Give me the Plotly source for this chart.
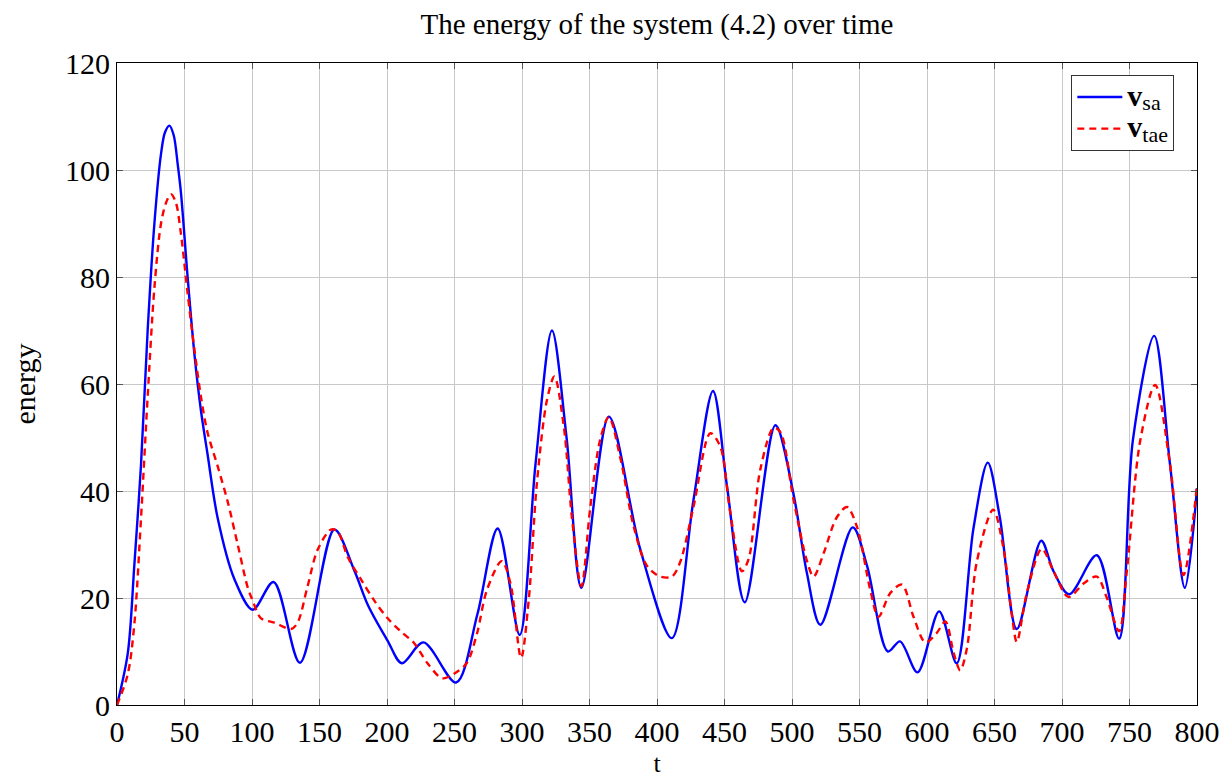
import plotly.graph_objects as go

# v_sa (solid blue) key points
t_sa = [0, 8, 12.8, 17.8, 22.7, 27.7, 32.6, 35.5, 38.8, 42, 45, 47.4, 52.3, 57.3, 62.2, 67, 74.6, 87, 100.5,
        116, 135.5, 161, 176, 186, 200.5, 211, 227, 251.2, 267, 282, 298.3, 310, 322.2, 333, 344,
        364.3, 387.7, 411, 427, 441.5, 451.9, 465, 487.7, 501, 511, 521, 545, 555.6, 571, 580, 593,
        609, 622, 634.4, 645, 654, 666.5, 684.6, 693.7, 705.3, 725.8, 742.3, 752.5, 768.3, 780, 791, 800]
e_sa = [0, 9.7, 26, 45, 70, 90, 103, 107, 108.3, 106.5, 101, 95.7, 80, 65.7, 55, 47, 34.9, 23.5, 17.8,
        23, 7.9, 32.8, 25, 18.6, 12, 7.8, 11.7, 4.2, 17, 33, 13.1, 45, 70, 50, 21.9,
        53.9, 29, 12.5, 38.3, 58.7, 40.8, 19.2, 52.3, 39.6, 24.7, 15, 33.2, 26, 10, 11.9, 6.1,
        17.5, 7.8, 33, 45.3, 35, 14.2, 30.7, 25, 20.7, 28, 12.4, 49.5, 69, 45, 21.9, 40.5]

# v_tae (dashed red) key points
t_tae = [0, 7.9, 12.8, 17.8, 22.7, 27.7, 32.6, 36.5, 40, 43.5, 47.4, 52.3, 57.3, 62.2, 67, 74.6, 82, 89.4, 96.8,
         100.5, 106.7, 116.5, 129, 133.8, 141, 148.6, 158.5, 163.5, 171, 180.7, 190.6, 200.5, 210,
         220, 230, 241, 250.6, 259, 266.7, 274, 285, 291.4, 299.3, 305, 311, 318.5, 324, 331, 337,
         344, 350.6, 358, 364.3, 373, 382.7, 392.6, 402.5, 411, 417, 427, 439.5, 446.9, 454, 462.9,
         467.9, 476.5, 486.4, 491.4, 501.2, 511, 516, 523.5, 533, 540.7, 548, 558, 564, 573, 581.5,
         590, 598.8, 607, 613.6, 619.8, 624.6, 629.5, 636.9, 649, 656.7, 662.8, 666.5, 674, 685,
         693.7, 704.8, 716, 725.8, 733, 742.3, 748, 758, 769, 780, 790, 800]
e_tae = [0, 5.7, 15, 35, 57.6, 78, 90, 94, 95.5, 94, 88, 77, 66.5, 57.6, 51, 44.6, 38, 30, 22,
         19.5, 16.2, 15.4, 14.2, 15.4, 22, 29, 32.8, 32.4, 27.6, 23.5, 19.5, 16.2, 13.8,
         11.6, 7.8, 5, 6, 7.8, 13.4, 21.5, 26.9, 22.8, 8.8, 19.7, 41.4, 57, 61.4, 52, 35,
         22.2, 37, 49.7, 53.8, 46, 33.4, 26, 24, 24, 26.6, 37, 50.8, 48.3, 36.4, 25,
         27.3, 44, 51.8, 51, 38.3, 27, 24, 28.4, 35, 37, 33.4, 21.5, 16.5, 21, 22.5,
         16.5, 11.7, 13.4, 15.6, 9.7, 6.5, 10.5, 26.8, 36.5, 29.2, 17, 11.8, 21, 29.2,
         25, 20.2, 22.7, 24, 20.2, 13.8, 25, 49.5, 59.8, 45, 24.3, 41]

x_ticks = list(range(0, 801, 50))
y_ticks = list(range(0, 121, 20))

FONT = "Liberation Serif"

fig = go.Figure()
fig.add_trace(go.Scatter(
    x=t_sa, y=e_sa, mode="lines",
    name="<span style='font-size:30px'><b>v</b></span><sub><span style='font-size:22px'>sa</span></sub>",
    line=dict(color="#0000ff", width=2.4, shape="spline", smoothing=0.9)))
fig.add_trace(go.Scatter(
    x=t_tae, y=e_tae, mode="lines",
    name="<span style='font-size:30px'><b>v</b></span><sub><span style='font-size:22px'>tae</span></sub>",
    line=dict(color="#ff0000", width=2.4, dash="7px,5px", shape="spline", smoothing=0.9)))

axis_common = dict(
    showline=True, linecolor="black", linewidth=1.2, mirror="ticks",
    ticks="inside", ticklen=6, tickcolor="#555555",
    showgrid=True, gridcolor="#c8c8c8", gridwidth=1, automargin=False,
    zeroline=False, tickfont=dict(family=FONT, size=30, color="black"),
)

fig.update_layout(
    width=1224, height=770,
    paper_bgcolor="white", plot_bgcolor="white",
    margin=dict(l=109, r=35, t=55, b=73),
    font=dict(family=FONT, color="black"),
    title=dict(text="The energy of the system (4.2) over time", x=0.5, xanchor="center",
               xref="paper", y=0.98, yanchor="middle", font=dict(family=FONT, size=29)),
    xaxis=dict(range=[0, 800], tickvals=x_ticks, ticktext=[str(v) for v in x_ticks],
               title=dict(text="t", font=dict(family=FONT, size=26), standoff=9),
               **axis_common),
    yaxis=dict(range=[0, 120], tickvals=y_ticks, ticktext=[str(v) for v in y_ticks],
               title=dict(text="energy", font=dict(family=FONT, size=30), standoff=24),
               **axis_common),
    legend=dict(x=0.979, y=0.981, xanchor="right", yanchor="top",
                bgcolor="white", bordercolor="#333333", borderwidth=1,
                font=dict(family=FONT, size=22), tracegroupgap=0, itemwidth=45),
    showlegend=True,
)

fig.write_html("out.html")
